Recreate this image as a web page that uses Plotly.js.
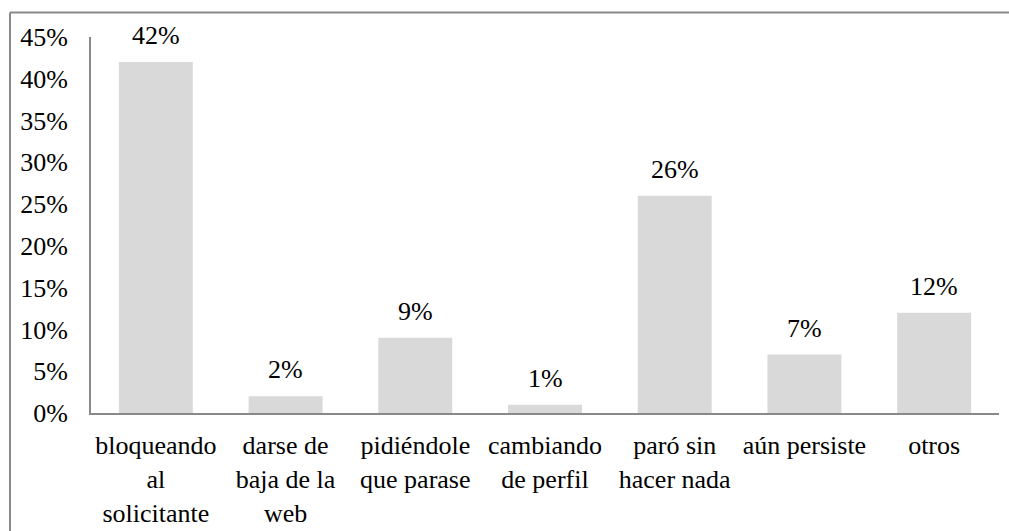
<!DOCTYPE html>
<html>
<head>
<meta charset="utf-8">
<script src="https://cdn.plot.ly/plotly-3.0.1.min.js"></script>
<style>html,body{margin:0;padding:0;background:#fff}#chart{width:1009px;height:531px}</style>
</head>
<body>
<div id="chart"></div>
<script>
var categories = ["bloqueando al solicitante", "darse de baja de la web", "pidiéndole que parase", "cambiando de perfil", "paró sin hacer nada", "aún persiste", "otros"];
var tickLabels = ["bloqueando<br>al<br>solicitante", "darse de<br>baja de la<br>web", "pidiéndole<br>que parase", "cambiando<br>de perfil", "paró sin<br>hacer nada", "aún persiste", "otros"];
var values = [42, 2, 9, 1, 26, 7, 12];
var valueLabels = ["42%", "2%", "9%", "1%", "26%", "7%", "12%"];

var font = {family: "Liberation Serif", size: 26, color: "#000"};
var axisColor = "#898989";

var trace = {
  type: "bar",
  x: categories,
  y: values,
  marker: {color: "#d9d9d9", line: {width: 0}},
  hoverinfo: "none"
};

var annotations = categories.map(function (c, i) {
  return {
    x: c, y: values[i], xref: "x", yref: "y",
    text: valueLabels[i], showarrow: false,
    yanchor: "bottom", yshift: 10,
    font: font
  };
});

var layout = {
  width: 1009, height: 531,
  margin: {l: 91, r: 10, t: 37, b: 118},
  paper_bgcolor: "#fff", plot_bgcolor: "#fff",
  font: font,
  showlegend: false,
  bargap: 0.43,
  xaxis: {
    type: "category",
    tickvals: categories, ticktext: tickLabels,
    showline: true, linecolor: axisColor, linewidth: 2,
    ticks: "", showgrid: false, zeroline: false,
    ticklabelstandoff: 8,
    tickfont: font, fixedrange: true
  },
  yaxis: {
    range: [0, 45], dtick: 5, tick0: 0,
    ticksuffix: "%",
    showline: true, linecolor: axisColor, linewidth: 2,
    ticks: "", showgrid: false, zeroline: false,
    ticklabelstandoff: 16,
    tickfont: font, fixedrange: true
  },
  annotations: annotations,
  shapes: [
    {type: "line", xref: "paper", yref: "paper", x0: -0.0892, x1: 1.05, y0: 1.0652, y1: 1.0652, line: {color: axisColor, width: 2}},
    {type: "line", xref: "paper", yref: "paper", x0: -0.0892, x1: -0.0892, y0: 1.0652, y1: -0.4, line: {color: axisColor, width: 2}}
  ]
};

Plotly.newPlot("chart", [trace], layout, {displayModeBar: false, staticPlot: true});
</script>
</body>
</html>
